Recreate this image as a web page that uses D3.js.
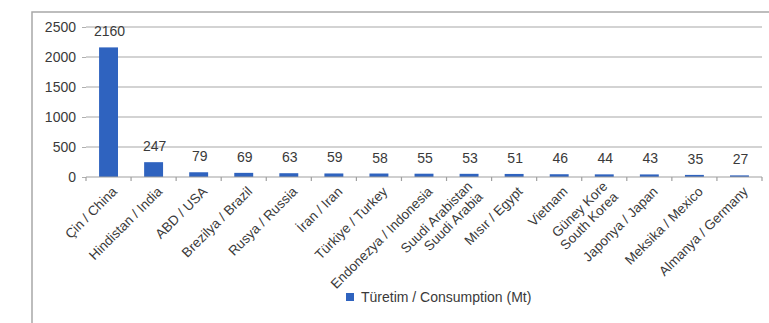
<!DOCTYPE html>
<html><head><meta charset="utf-8">
<script src="https://cdn.jsdelivr.net/npm/d3@7"></script>
<style>
html,body{margin:0;padding:0;background:#fff;}
text{font-family:"Liberation Sans",Arial,sans-serif;fill:#3a3a3a;}
</style></head>
<body>
<svg id="c" width="769" height="323"></svg>
<script>
const categories = [
  ["Çin / China"], ["Hindistan / India"], ["ABD / USA"], ["Brezilya / Brazil"],
  ["Rusya / Russia"], ["İran / Iran"], ["Türkiye / Turkey"], ["Endonezya / Indonesia"],
  ["Suudi Arabistan", "Suudi Arabia"], ["Mısır / Egypt"], ["Vietnam"],
  ["Güney Kore", "South Korea"], ["Japonya / Japan"], ["Meksika / Mexico"], ["Almanya / Germany"]
];
const values = [2160, 247, 79, 69, 63, 59, 58, 55, 53, 51, 46, 44, 43, 35, 27];
const yTicks = [0, 500, 1000, 1500, 2000, 2500];
const seriesName = "Türetim / Consumption (Mt)";

const svg = d3.select("#c");
const color = "#2f63bf";

// frame
svg.append("path").attr("d", "M32,323 V12 H769").attr("fill", "none")
  .attr("stroke", "#a8a8a8").attr("stroke-width", 1.5);

const idx = categories.map((d, i) => i);
const x = d3.scaleBand().domain(idx).range([86, 762]).paddingInner(0.58).paddingOuter(0.29);
const y = d3.scaleLinear().domain([0, 2500]).range([177, 27]);

// grid
svg.append("g").selectAll("line").data(yTicks.filter(t => t > 0)).join("line")
  .attr("x1", 86).attr("x2", 762).attr("y1", d => y(d)).attr("y2", d => y(d))
  .attr("stroke", "#c4c4c4").attr("stroke-width", 1.3);

// y axis labels
const ya = svg.append("g").attr("transform", "translate(86,0)")
  .call(d3.axisLeft(y).tickValues(yTicks).tickFormat(d3.format("d")).tickSize(4).tickPadding(6));
ya.select(".domain").remove();
ya.selectAll("line").attr("stroke", "#b0b0b0");
ya.selectAll("text").attr("font-size", 14).attr("fill", "#3a3a3a")
  .style("font-family", "'Liberation Sans',Arial,sans-serif");

// bars
svg.append("g").selectAll("rect").data(values).join("rect")
  .attr("x", (d, i) => x(i)).attr("width", x.bandwidth())
  .attr("y", d => y(d)).attr("height", d => y(0) - y(d))
  .attr("fill", color);

// x axis line and boundary ticks
const step = x.step();
const x0 = 86;
svg.append("line").attr("x1", 86).attr("x2", 762).attr("y1", y(0)).attr("y2", y(0))
  .attr("stroke", "#a0a0a0").attr("stroke-width", 1.2);
svg.append("g").selectAll("line").data(d3.range(categories.length + 1)).join("line")
  .attr("x1", i => x0 + i * step).attr("x2", i => x0 + i * step)
  .attr("y1", y(0)).attr("y2", y(0) + 4)
  .attr("stroke", "#a0a0a0").attr("stroke-width", 1.2);

// value labels
svg.append("g").selectAll("text").data(values).join("text")
  .attr("x", (d, i) => x(i) + x.bandwidth() / 2 + 1)
  .attr("y", d => y(d) - 11)
  .attr("text-anchor", "middle").attr("font-size", 14)
  .text(d => d);

// category labels
const cl = svg.append("g").selectAll("text").data(categories).join("text")
  .attr("text-anchor", "end").attr("font-size", 13.5)
  .attr("transform", (d, i) => `translate(${x(i) + x.bandwidth() / 2 + 6},${y(0) + 12}) rotate(-45)`);
cl.each(function(lines) {
  const t = d3.select(this);
  const n = lines.length;
  lines.forEach((s, k) => {
    t.append("tspan").attr("x", 0)
      .attr("dy", k === 0 ? (0.35 - (n - 1) * 0.55) + "em" : "1.1em")
      .text(s);
  });
});

// legend
svg.append("rect").attr("x", 346).attr("y", 293).attr("width", 8).attr("height", 8).attr("fill", color);
svg.append("text").attr("x", 361).attr("y", 302).attr("font-size", 14).text(seriesName);
</script>
</body></html>
